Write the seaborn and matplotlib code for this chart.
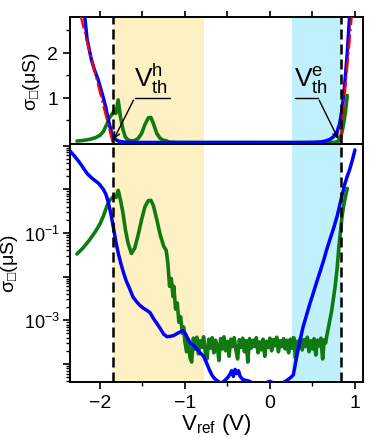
import numpy as np
import pandas as pd
import seaborn as sns
import matplotlib.pyplot as plt
from matplotlib.ticker import MultipleLocator, FixedLocator, FixedFormatter, LogLocator, NullFormatter

# ---- data (V_ref in V, sigma in uS) ----
blue_v = [-2.35, -2.30, -2.25, -2.20, -2.15, -2.10, -2.06, -2.02, -1.99, -1.96,
          -1.93, -1.90, -1.87, -1.84, -1.81, -1.78, -1.75, -1.72, -1.69, -1.65,
          -1.61, -1.57, -1.53, -1.49, -1.45, -1.41, -1.37, -1.33, -1.29, -1.25,
          -1.21, -1.17, -1.13, -1.09, -1.05, -1.02, -0.99, -0.96, -0.93, -0.90,
          -0.86, -0.82, -0.78, -0.74, -0.71, -0.68, -0.65, -0.61, -0.57, -0.53,
          -0.50, -0.47, -0.45, -0.43, -0.41, -0.39, -0.37, -0.35, -0.32, -0.28,
          -0.24, -0.20, -0.10, 0.00, 0.05, 0.12, 0.20, 0.24, 0.275, 0.31,
          0.35, 0.39, 0.43, 0.47, 0.51, 0.55, 0.59, 0.63, 0.67, 0.71,
          0.75, 0.79, 0.82, 0.85, 0.88, 0.91, 0.94, 0.97, 1.00]
blue_s = [7.5, 5.8, 4.4, 3.2, 2.3, 1.85, 1.6, 1.4, 1.2, 1.0,
          0.78, 0.5, 0.27, 0.13, 0.06, 0.032, 0.019, 0.012, 0.008, 0.0053,
          0.0034, 0.0027, 0.0022, 0.0019, 0.0017, 0.0015, 0.0011, 0.00085, 0.00065, 0.00048,
          0.00042, 0.00043, 0.00045, 0.0005, 0.00055, 0.00058, 0.00048, 0.00036, 0.00029, 0.00027,
          0.00022, 0.00018, 0.00015, 0.0001, 7.2e-5, 5.5e-5, 4.6e-5, 4.0e-5, 3.6e-5, 4.2e-5,
          4.8e-5, 5.8e-5, 7.0e-5, 5.2e-5, 7.5e-5, 6.0e-5, 7.0e-5, 5.2e-5, 4.4e-5, 4.2e-5,
          4.0e-5, 3.6e-5, 3.4e-5, 4.0e-5, 3.6e-5, 3.4e-5, 4.2e-5, 4.8e-5, 5.6e-5, 0.00013,
          0.00032, 0.0007, 0.0013, 0.0024, 0.0042, 0.0075, 0.013, 0.023, 0.043, 0.075,
          0.13, 0.24, 0.42, 0.75, 1.3, 2.0, 2.9, 4.7, 8.0]

green_v = [-2.27, -2.20, -2.12, -2.05, -2.00, -1.96, -1.92, -1.89, -1.86, -1.83,
           -1.81, -1.785, -1.76, -1.73, -1.70, -1.67, -1.63, -1.59, -1.55, -1.51,
           -1.47, -1.43, -1.40, -1.37, -1.33, -1.29, -1.25, -1.22, -1.20, -1.18,
           -1.16, -1.14, -1.13, -1.11, -1.09, -1.07, -1.05, -1.03, -1.015,
           -1.000, -0.980, -0.960, -0.940, -0.920, -0.900, -0.880, -0.860, -0.840, -0.820,
           -0.800, -0.780, -0.760, -0.740, -0.720, -0.700, -0.680, -0.660, -0.640, -0.620,
           -0.600, -0.580, -0.560, -0.540, -0.520, -0.500, -0.480, -0.460, -0.440, -0.420,
           -0.400, -0.380, -0.360, -0.340, -0.320, -0.300, -0.280, -0.260, -0.240, -0.220,
           -0.200, -0.180, -0.160, -0.140, -0.120, -0.100, -0.080, -0.060, -0.040, -0.020,
           0.000, 0.020, 0.040, 0.060, 0.080, 0.100, 0.120, 0.140, 0.160, 0.180,
           0.200, 0.220, 0.240, 0.260, 0.280, 0.300, 0.320, 0.340, 0.360, 0.380,
           0.400, 0.420, 0.440, 0.460, 0.480, 0.500, 0.520, 0.540, 0.560, 0.580,
           0.600, 0.620, 0.640, 0.655,
           0.67, 0.70, 0.725, 0.745, 0.765, 0.79, 0.81, 0.83, 0.85, 0.87, 0.89, 0.91]
green_s = [0.033, 0.045, 0.07, 0.11, 0.16, 0.24, 0.40, 0.55, 0.62, 0.72,
           0.65, 0.95, 0.6, 0.3, 0.12, 0.06, 0.034, 0.045, 0.09, 0.2,
           0.4, 0.55, 0.56, 0.42, 0.2, 0.09, 0.05, 0.04, 0.02, 0.006,
           0.009, 0.0035, 0.006, 0.0018, 0.0025, 0.0009, 0.0012, 0.0005, 0.0007,
           3.2e-4, 1.9e-4, 3.6e-4, 1.4e-4, 1.1e-4, 3.9e-4, 2.2e-4, 4.1e-4, 1.7e-4, 3.4e-4,
           2.4e-4, 4.2e-4, 1.9e-4, 1.3e-4, 3.7e-4, 2.3e-4, 4.0e-4, 1.8e-4, 3.5e-4, 2.6e-4,
           1.2e-4, 3.8e-4, 2.2e-4, 4.2e-4, 2.0e-4, 3.3e-4, 1.5e-4, 3.7e-4, 2.5e-4, 4.0e-4,
           2.1e-4, 1.3e-4, 3.6e-4, 2.4e-4, 3.9e-4, 1.9e-4, 3.4e-4, 1.1e-4, 3.8e-4, 2.3e-4,
           3.5e-4, 2.5e-4, 4.0e-4, 1.8e-4, 3.2e-4, 2.1e-4, 3.7e-4, 1.5e-4, 3.3e-4, 2.4e-4,
           3.9e-4, 2.0e-4, 3.6e-4, 2.6e-4, 4.1e-4, 1.9e-4, 3.4e-4, 2.5e-4, 3.8e-4, 2.2e-4,
           3.5e-4, 1.8e-4, 3.7e-4, 2.3e-4, 4.0e-4, 1.4e-4, 3.3e-4, 2.4e-4, 3.9e-4, 2.1e-4,
           3.6e-4, 2.5e-4, 4.1e-4, 1.9e-4, 3.4e-4, 2.2e-4, 3.8e-4, 1.6e-4, 3.5e-4, 2.6e-4,
           3.9e-4, 1.3e-4, 3.6e-4, 3.0e-4,
           4.5e-4, 9e-4, 1.6e-3, 3.0e-3, 5.5e-3, 0.015, 0.045, 0.11, 0.25, 0.45, 0.7, 1.05]

# linear fits (red dash-dot) in the top panel
fit_h_v = [-2.23, -1.85]
fit_h_s = [2.85, 0.0]
fit_e_v = [0.83, 0.965]
fit_e_s = [0.0, 2.85]

v_th_h, v_th_e = -1.85, 0.84
band_h = (-1.85, -0.78)
band_e = (0.255, 0.84)

blue = pd.DataFrame({'V': blue_v, 's': blue_s})
green = pd.DataFrame({'V': green_v, 's': green_s})

sns.set_style('ticks')
plt.rcParams['font.family'] = ['Liberation Sans', 'DejaVu Sans']
plt.rcParams['mathtext.fontset'] = 'custom'
plt.rcParams['mathtext.rm'] = 'Liberation Sans'
plt.rcParams['mathtext.it'] = 'Liberation Sans'
plt.rcParams['axes.linewidth'] = 1.4
for k in ('text.color', 'axes.labelcolor', 'xtick.color', 'ytick.color', 'axes.edgecolor'):
    plt.rcParams[k] = 'black'

fig = plt.figure(figsize=(3.75, 4.39), dpi=100)
ax1 = fig.add_axes([0.187, 0.670, 0.781, 0.289])
ax2 = fig.add_axes([0.187, 0.128, 0.781, 0.542])

GREEN = '#107a10'
BLUE = '#0000ff'
for ax in (ax1, ax2):
    ax.axvspan(*band_h, color='#fdf0c2', lw=0, zorder=0)
    ax.axvspan(*band_e, color='#bff0fb', lw=0, zorder=0)
    sns.lineplot(data=green, x='V', y='s', ax=ax, color=GREEN, lw=2.6,
                 sort=False, estimator=None, zorder=2)
    sns.lineplot(data=blue, x='V', y='s', ax=ax, color=BLUE, lw=2.5,
                 sort=False, estimator=None, zorder=3)
    for v in (v_th_h, v_th_e):
        ax.axvline(v, color='black', lw=1.8, dashes=(4, 2), zorder=5)
    ax.set_xlim(-2.35, 1.095)
    ax.set_xlabel('')
    ax.set_ylabel('')

ax1.plot(fit_h_v, fit_h_s, color='red', lw=1.6, ls='-.', zorder=4)
ax1.plot(fit_e_v, fit_e_s, color='red', lw=1.6, ls='-.', zorder=4)

# top (linear) panel
ax1.set_ylim(-0.03, 2.8)
ax1.yaxis.set_major_locator(FixedLocator([1, 2]))
ax1.yaxis.set_minor_locator(FixedLocator([0.5, 1.5, 2.5]))
ax1.xaxis.set_major_locator(MultipleLocator(0.5))
ax1.tick_params(axis='x', which='both', bottom=False, top=True, labelbottom=False,
                labeltop=False, length=4, width=1.2)
ax1.tick_params(axis='y', which='major', length=5, width=1.2, labelsize=14)
ax1.tick_params(axis='y', which='minor', length=3, width=1.0)
ax1.set_ylabel('σ$_{□}$(μS)', fontsize=14)
ax1.yaxis.set_label_coords(-0.095, 0.5)

# threshold annotations
ax1.plot([-1.59, -1.18], [1.0, 1.0], color='black', lw=1.0, zorder=6)
ax1.annotate('', xy=(-1.85, 0.02), xytext=(-1.59, 1.0),
             arrowprops=dict(arrowstyle='->', lw=1.0, color='black'), zorder=6)
ax1.text(-1.60, 1.06, r'$\mathregular{V^h_{th}}$', fontsize=19, ha='left', va='bottom')
ax1.plot([0.29, 0.565], [1.0, 1.0], color='black', lw=1.0, zorder=6)
ax1.annotate('', xy=(0.82, 0.02), xytext=(0.565, 1.0),
             arrowprops=dict(arrowstyle='->', lw=1.0, color='black'), zorder=6)
ax1.text(0.28, 1.06, r'$\mathregular{V^e_{th}}$', fontsize=19, ha='left', va='bottom')

# bottom (log) panel
ax2.set_yscale('log')
ax2.set_ylim(3.9e-5, 11)
dec = [1e-4, 1e-3, 1e-2, 1e-1, 1e0, 1e1]
ax2.yaxis.set_major_locator(FixedLocator(dec))
ax2.yaxis.set_major_formatter(FixedFormatter(['', '10$^{-3}$', '', '10$^{-1}$', '', '']))
ax2.yaxis.set_minor_locator(LogLocator(base=10, subs=np.arange(2, 10)))
ax2.yaxis.set_minor_formatter(NullFormatter())
ax2.xaxis.set_major_locator(FixedLocator([-2, -1, 0, 1]))
ax2.xaxis.set_minor_locator(FixedLocator([-1.5, -0.5, 0.5]))
ax2.tick_params(axis='x', which='major', length=5, width=1.2, labelsize=14)
ax2.tick_params(axis='y', which='major', length=5, width=1.2, labelsize=13, pad=2)
ax2.tick_params(axis='both', which='minor', length=3, width=1.0)
ax2.set_ylabel('σ$_{□}$(μS)', fontsize=14)
ax2.yaxis.set_label_coords(-0.172, 0.5)
ax2.set_xlabel(r'V$_{\mathrm{ref}}$ (V)', fontsize=16, labelpad=0)

fig.savefig('out.png', dpi=100)
